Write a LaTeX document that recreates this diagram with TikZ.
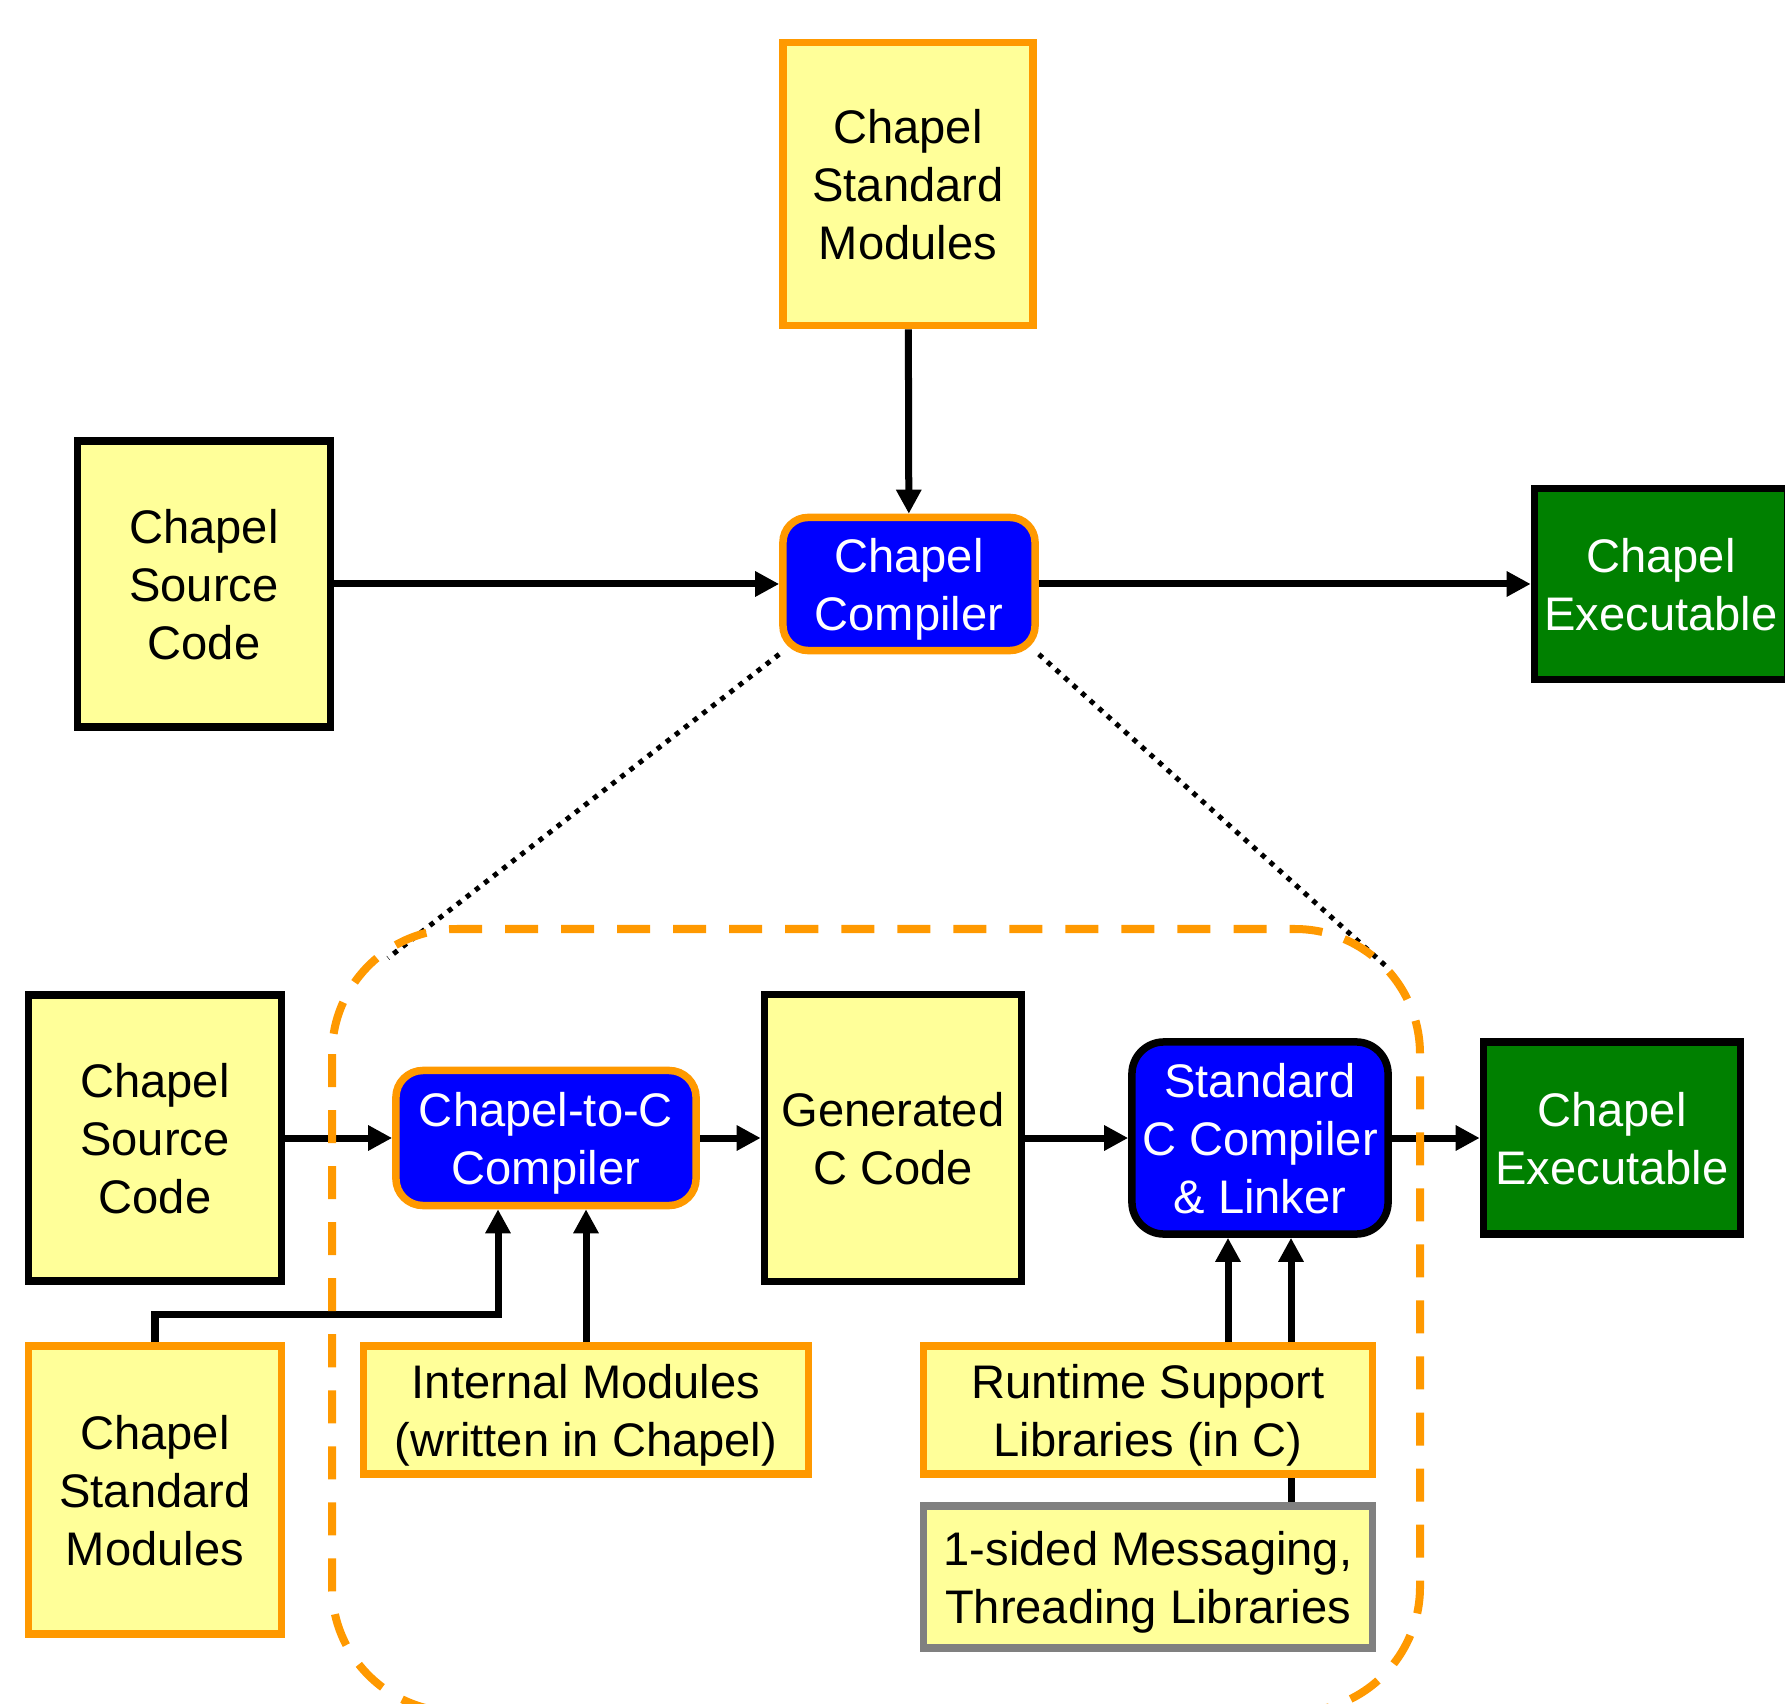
\documentclass[tikz,border=0pt]{standalone}
\usepackage{fontspec}
\setmainfont{Liberation Sans}
\usepackage{tikz}
\usetikzlibrary{arrows.meta,backgrounds,calc}
\definecolor{boxyellow}{HTML}{FFFF99}
\definecolor{boxorange}{HTML}{FF9900}
\definecolor{boxblue}{HTML}{0000FF}
\definecolor{boxgreen}{HTML}{008000}
\definecolor{boxgray}{HTML}{808080}

\begin{document}
\begin{tikzpicture}[x=0.01cm,y=-0.01cm,
  every node/.style={font=\fontsize{13.4}{16.5}\selectfont,align=center,inner sep=0pt,line width=0.075cm,text depth=-0.75pt},
  srcbox/.style={draw=black,fill=boxyellow},
  libbox/.style={draw=boxorange,fill=boxyellow},
  compbox/.style={draw=boxorange,fill=boxblue,text=white,rounded corners=0.25cm},
  exebox/.style={draw=black,fill=boxgreen,text=white},
  arr/.style={line width=0.07cm,-{Triangle[length=0.24cm,width=0.24cm]}},
  zoomline/.style={line width=0.05cm,dash pattern=on 0.05cm off 0.065cm}]
\clip (0,0) rectangle (1785,1704);

% the compiler as one box
\node[libbox,minimum width=2.5cm,minimum height=2.83cm] (tstd) at (908,184) {Chapel\\Standard\\Modules};
\node[srcbox,minimum width=2.53cm,minimum height=2.86cm] (tsrc) at (204,584) {Chapel\\Source\\Code};
\node[compbox,minimum width=2.52cm,minimum height=1.33cm] (tcomp) at (909,584) {Chapel\\Compiler};
\node[exebox,minimum width=2.53cm,minimum height=1.91cm] (texe) at (1661,584) {Chapel\\Executable};

\draw[arr] (tsrc) -- (tcomp);
\draw[arr] (tcomp) -- (texe);
\draw[arr] (tstd) -- (tcomp);

% the compiler opened up
\node[srcbox,minimum width=2.53cm,minimum height=2.86cm] (bsrc) at (155,1138) {Chapel\\Source\\Code};
\node[compbox,minimum width=3.0cm,minimum height=1.35cm,rounded corners=0.27cm] (btoc) at (546,1138) {Chapel-to-C\\Compiler};
\node[srcbox,minimum width=2.57cm,minimum height=2.87cm] (bgen) at (893,1138) {Generated\\C Code};
\node[compbox,draw=black,minimum width=2.56cm,minimum height=1.92cm,rounded corners=0.32cm] (bcc) at (1260,1138) {Standard\\C Compiler\\\& Linker};
\node[exebox,minimum width=2.57cm,minimum height=1.92cm] (bexe) at (1612,1138) {Chapel\\Executable};
\node[libbox,minimum width=2.53cm,minimum height=2.88cm] (bstd) at (155,1490) {Chapel\\Standard\\Modules};
\node[libbox,minimum width=4.45cm,minimum height=1.28cm] (bint) at (586,1410) {Internal Modules\\(written in Chapel)};
\node[libbox,minimum width=4.49cm,minimum height=1.28cm] (brt) at (1148,1410) {Runtime Support\\Libraries (in C)};
\node[libbox,draw=boxgray,minimum width=4.49cm,minimum height=1.42cm] (bmsg) at (1148,1577) {1-sided Messaging,\\Threading Libraries};

\draw[arr] (bsrc) -- (btoc);
\draw[arr] (btoc) -- (bgen);
\draw[arr] (bgen) -- (bcc);
\draw[arr] (bcc) -- (bexe);
\coordinate (elbow) at (498,1314);
\draw[arr] (bstd.north) |- (elbow) -- (elbow |- btoc.south);
\draw[arr] (bint.north) -- (bint.north |- btoc.south);
\coordinate (rtout) at ($(brt.north)+(80,0)$);
\coordinate (msgout) at ($(bmsg.north)+(143,0)$);
\draw[arr] (rtout) -- (rtout |- bcc.south);
\begin{scope}[on background layer]
\draw[arr] (msgout) -- (msgout |- bcc.south);
\end{scope}

% zoom lines and frame
\coordinate (zl) at (388,958);
\coordinate (zr) at (1388,968);
\draw[zoomline] (tcomp.south west) -- (zl);
\draw[zoomline] (tcomp.south east) -- (zr);
\draw[boxorange,line width=0.08cm,dash pattern=on 0.33cm off 0.23cm,rounded corners=1.25cm] (332,929) rectangle (1420,1712);
\end{tikzpicture}
\end{document}
